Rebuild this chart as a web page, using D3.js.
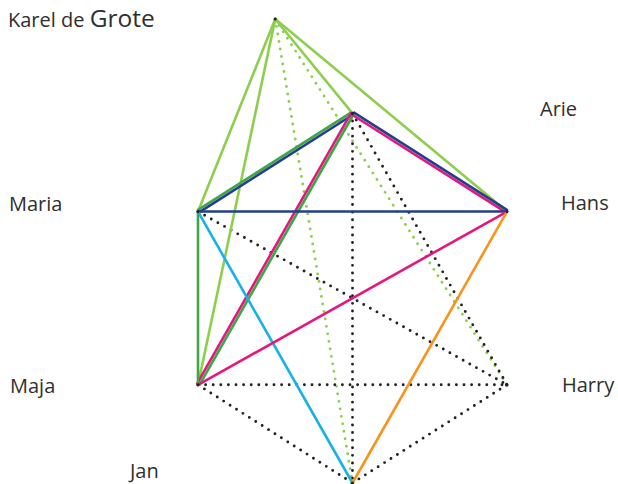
<!DOCTYPE html>
<html>
<head>
<meta charset="utf-8">
<script src="https://cdn.jsdelivr.net/npm/d3@7"></script>
<style>
    html, body { margin: 0; padding: 0; background: #fff; }
    svg { display: block; }
</style>
</head>
<body>
<svg id="chart" width="618" height="484"></svg>
<script>
// network : who is linked to whom
var nodeNames = ["Karel de Grote", "Arie", "Maria", "Hans", "Maja", "Harry", "Jan"];
var nodeCols = [0.5, 1, 0, 2, 0, 2, 1];
var nodeRows = [0, 0.98, 2, 2, 3.8, 3.8, 4.82];

var linkSources = ["Karel de Grote", "Karel de Grote", "Karel de Grote", "Karel de Grote", "Karel de Grote", "Karel de Grote",
    "Arie", "Arie", "Arie", "Arie", "Arie", "Arie", "Arie", "Arie",
    "Maria", "Maria", "Maria", "Maria",
    "Hans", "Hans", "Maja", "Maja", "Jan"];
var linkTargets = ["Maria", "Maja", "Arie", "Hans", "Jan", "Harry",
    "Maria", "Maria", "Maja", "Maja", "Hans", "Hans", "Jan", "Harry",
    "Hans", "Maja", "Jan", "Harry",
    "Maja", "Jan", "Harry", "Jan", "Harry"];
var linkKinds = ["lichtgroen", "lichtgroen", "lichtgroen", "lichtgroen", "lichtgroen-stip", "lichtgroen-stip",
    "groen", "blauw", "roze", "groen", "roze", "blauw", "stip", "stip",
    "blauw", "groen", "cyaan", "stip",
    "roze", "oranje", "stip", "stip", "stip"];

var kindNames = ["lichtgroen", "lichtgroen-stip", "groen", "blauw", "roze", "cyaan", "oranje", "stip"];
var kindColors = ["#8dcf4c", "#8dcf4c", "#3da647", "#233e8e", "#e5177f", "#17b1e7", "#f7941e", "#222222"];

(function(d3) {

    var svg = d3.select("#chart");

    var x = d3.scaleLinear().domain([0, 2]).range([198, 507]);
    var y = d3.scaleLinear().domain([0, 4.82]).range([19, 483]);
    var color = d3.scaleOrdinal().domain(kindNames).range(kindColors);

    var nodes = nodeNames.map(function(name, i) {
        return { name: name, col: nodeCols[i], row: nodeRows[i] };
    });
    var byName = {};
    nodes.forEach(function(n) { byName[n.name] = n; });

    var links = linkSources.map(function(s, i) {
        return { source: byName[s], target: byName[linkTargets[i]], kind: linkKinds[i] };
    });

    // parallel links between the same pair get their own lane
    var pairCount = d3.rollup(links, function(v) { return v.length; }, function(d) { return d.source.name + "|" + d.target.name; });
    var seen = {};
    links.forEach(function(d) {
        var key = d.source.name + "|" + d.target.name;
        var i = seen[key] || 0;
        seen[key] = i + 1;
        d.lane = i - (pairCount.get(key) - 1) / 2;
    });

    var gap = 2.7;
    var coords = function(d) {
        var x1 = x(d.source.col), y1 = y(d.source.row);
        var x2 = x(d.target.col), y2 = y(d.target.row);
        var len = Math.sqrt((x2 - x1) * (x2 - x1) + (y2 - y1) * (y2 - y1));
        var ox = (y2 - y1) / len * d.lane * gap;
        var oy = -(x2 - x1) / len * d.lane * gap;
        return [x1 + ox, y1 + oy, x2 + ox, y2 + oy];
    };

    var isDotted = function(d) { return d.kind.indexOf("stip") >= 0; };

    var drawLinks = function(data, cls) {
        return svg.append("g").attr("class", cls)
            .selectAll("line")
            .data(data)
            .enter()
            .append("line")
            .attr("x1", function(d) { return coords(d)[0]; })
            .attr("y1", function(d) { return coords(d)[1]; })
            .attr("x2", function(d) { return coords(d)[2]; })
            .attr("y2", function(d) { return coords(d)[3]; })
            .attr("stroke", function(d) { return color(d.kind); })
            .attr("stroke-width", function(d) { return isDotted(d) ? 2.9 : 2.6; })
            .attr("stroke-linecap", function(d) { return isDotted(d) ? "round" : "butt"; })
            .attr("stroke-dasharray", function(d) { return isDotted(d) ? "0,7.6" : null; });
    };

    drawLinks(links.filter(isDotted), "dotted");
    drawLinks(links.filter(function(d) { return !isDotted(d); }), "solid");

    svg.append("g").attr("class", "nodes")
        .selectAll("circle")
        .data(nodes)
        .enter()
        .append("circle")
        .attr("cx", function(d) { return x(d.col); })
        .attr("cy", function(d) { return y(d.row); })
        .attr("r", 1.6)
        .attr("fill", "#222");

    // label spots, picked by hand
    var labelSpots = {
        "Karel de Grote": [8, 27],
        "Arie": [540, 116],
        "Maria": [9, 211],
        "Hans": [561, 210],
        "Maja": [10, 393],
        "Harry": [562, 392],
        "Jan": [130, 478]
    };

    var labels = svg.append("g").attr("class", "labels")
        .selectAll("text")
        .data(nodes)
        .enter()
        .append("text")
        .attr("x", function(d) { return labelSpots[d.name][0]; })
        .attr("y", function(d) { return labelSpots[d.name][1]; })
        .attr("font-family", "'Open Sans', 'Noto Sans', sans-serif")
        .attr("font-size", 20)
        .style("fill", "#2f2f2f");

    labels.each(function(d) {
        var t = d3.select(this);
        var parts = d.name.split(" ");
        if (parts.length > 1) {
            // last word is set larger
            t.append("tspan").text(parts.slice(0, -1).join(" ") + " ");
            t.append("tspan").attr("font-size", 24.5).text(parts[parts.length - 1]);
        } else {
            t.text(d.name);
        }
    });

})(d3);
</script>
</body>
</html>
